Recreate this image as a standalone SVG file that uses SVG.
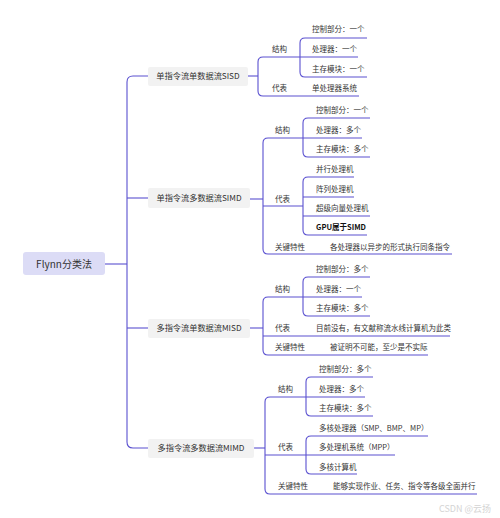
<svg xmlns="http://www.w3.org/2000/svg" width="500" height="518" viewBox="0 0 500 518">
<style>
  .ln { fill: none; stroke: #5a50d0; stroke-width: 1.1; }
  .t { font-family: "Noto Sans CJK SC", "Noto Sans", sans-serif; font-size: 7.5px; fill: #333333; }
  .b { font-weight: bold; fill: #111111; }
  .l1 { font-family: "Noto Sans CJK SC", "Noto Sans", sans-serif; font-size: 8.2px; fill: #333333; text-anchor: middle; }
  .l1box { fill: #f2f2f2; }
  .root { fill: #dcdcf6; }
  .rt { font-family: "Noto Sans CJK SC", "Noto Sans", sans-serif; font-size: 10px; fill: #333333; text-anchor: middle; }
  .wm { font-family: "Noto Sans CJK SC", "Noto Sans", sans-serif; font-size: 9px; fill: #d4d4d4; }
</style>
<rect width="500" height="518" fill="#ffffff"/>
<g id="connectors">
  <path class="ln" d="M105 264 H127"/>
  <path class="ln" d="M148 76 H133 Q127 76 127 82 V442 Q127 448 133 448 H148"/>
  <path class="ln" d="M127 198 H148"/>
  <path class="ln" d="M127 328 H148"/>
  <!-- SISD -->
  <path class="ln" d="M248 76 H258"/>
  <path class="ln" d="M300 57 H263 Q258 57 258 62 V91 Q258 96 263 96 H359"/>
  <path class="ln" d="M367 38 H305 Q300 38 300 43 V72 Q300 77 305 77 H367"/>
  <path class="ln" d="M300 57 H358"/>
  <!-- SIMD -->
  <path class="ln" d="M250 199 H263"/>
  <path class="ln" d="M303 138 H268 Q263 138 263 143 V249 Q263 254 268 254 H452"/>
  <path class="ln" d="M263 206 H303"/>
  <path class="ln" d="M370 118 H308 Q303 118 303 123 V152 Q303 157 308 157 H370"/>
  <path class="ln" d="M303 138 H362"/>
  <path class="ln" d="M354 177 H308 Q303 177 303 182 V230 Q303 235 308 235 H367"/>
  <path class="ln" d="M303 197 H354"/>
  <path class="ln" d="M303 216 H370"/>
  <!-- MISD -->
  <path class="ln" d="M250 328 H263"/>
  <path class="ln" d="M303 297 H268 Q263 297 263 302 V350 Q263 355 268 355 H428"/>
  <path class="ln" d="M263 336 H450"/>
  <path class="ln" d="M370 277 H308 Q303 277 303 282 V311 Q303 316 308 316 H370"/>
  <path class="ln" d="M303 297 H362"/>
  <!-- MIMD -->
  <path class="ln" d="M254 448 H265"/>
  <path class="ln" d="M306 397 H270 Q265 397 265 402 V489 Q265 494 270 494 H477"/>
  <path class="ln" d="M265 455 H306"/>
  <path class="ln" d="M373 377 H311 Q306 377 306 382 V411 Q306 416 311 416 H373"/>
  <path class="ln" d="M306 397 H365"/>
  <path class="ln" d="M428 436 H311 Q306 436 306 441 V469 Q306 474 311 474 H357"/>
  <path class="ln" d="M306 455 H395"/>
</g>
<g id="root">
  <rect class="root" x="23" y="252" width="82" height="23" rx="3"/>
  <text class="rt" x="64" y="267.5">Flynn分类法</text>
</g>
<g id="sisd">
  <rect class="l1box" x="148" y="67" width="100" height="19" rx="2"/>
  <text class="l1" x="198" y="79">单指令流单数据流SISD</text>
</g>
<g id="sisd-children">
  <text class="t" x="272" y="52">结构</text>
  <text class="t" x="312" y="32">控制部分：一个</text>
  <text class="t" x="312" y="52">处理器：一个</text>
  <text class="t" x="312" y="72">主存模块：一个</text>
  <text class="t" x="272" y="91">代表</text>
  <text class="t" x="312" y="91">单处理器系统</text>
</g>
<g id="simd">
  <rect class="l1box" x="148" y="188" width="102" height="20" rx="2"/>
  <text class="l1" x="199" y="201">单指令流多数据流SIMD</text>
</g>
<g id="simd-children">
  <text class="t" x="275" y="133">结构</text>
  <text class="t" x="316" y="113">控制部分：一个</text>
  <text class="t" x="316" y="133">处理器：多个</text>
  <text class="t" x="316" y="152">主存模块：多个</text>
  <text class="t" x="275" y="202">代表</text>
  <text class="t" x="316" y="172">并行处理机</text>
  <text class="t" x="316" y="192">阵列处理机</text>
  <text class="t" x="316" y="211">超级向量处理机</text>
  <text class="t b" x="316" y="230">GPU属于SIMD</text>
  <text class="t" x="275" y="250">关键特性</text>
  <text class="t" x="330" y="250">各处理器以异步的形式执行同条指令</text>
</g>
<g id="misd">
  <rect class="l1box" x="148" y="319" width="102" height="19" rx="2"/>
  <text class="l1" x="199" y="331">多指令流单数据流MISD</text>
</g>
<g id="misd-children">
  <text class="t" x="275" y="292">结构</text>
  <text class="t" x="316" y="272">控制部分：多个</text>
  <text class="t" x="316" y="292">处理器：一个</text>
  <text class="t" x="316" y="311">主存模块：多个</text>
  <text class="t" x="275" y="331">代表</text>
  <text class="t" x="316" y="331">目前没有，有文献称流水线计算机为此类</text>
  <text class="t" x="275" y="350">关键特性</text>
  <text class="t" x="330" y="350">被证明不可能，至少是不实际</text>
</g>
<g id="mimd">
  <rect class="l1box" x="148" y="439" width="106" height="19" rx="2"/>
  <text class="l1" x="201" y="451">多指令流多数据流MIMD</text>
</g>
<g id="mimd-children">
  <text class="t" x="278" y="392">结构</text>
  <text class="t" x="319" y="372">控制部分：多个</text>
  <text class="t" x="319" y="392">处理器：多个</text>
  <text class="t" x="319" y="411">主存模块：多个</text>
  <text class="t" x="278" y="450">代表</text>
  <text class="t" x="319" y="431">多核处理器（SMP、BMP、MP）</text>
  <text class="t" x="319" y="450">多处理机系统（MPP）</text>
  <text class="t" x="319" y="470">多核计算机</text>
  <text class="t" x="278" y="489">关键特性</text>
  <text class="t" x="333" y="489">能够实现作业、任务、指令等各级全面并行</text>
</g>
<text class="wm" x="439" y="512">CSDN @云扬</text>
</svg>
